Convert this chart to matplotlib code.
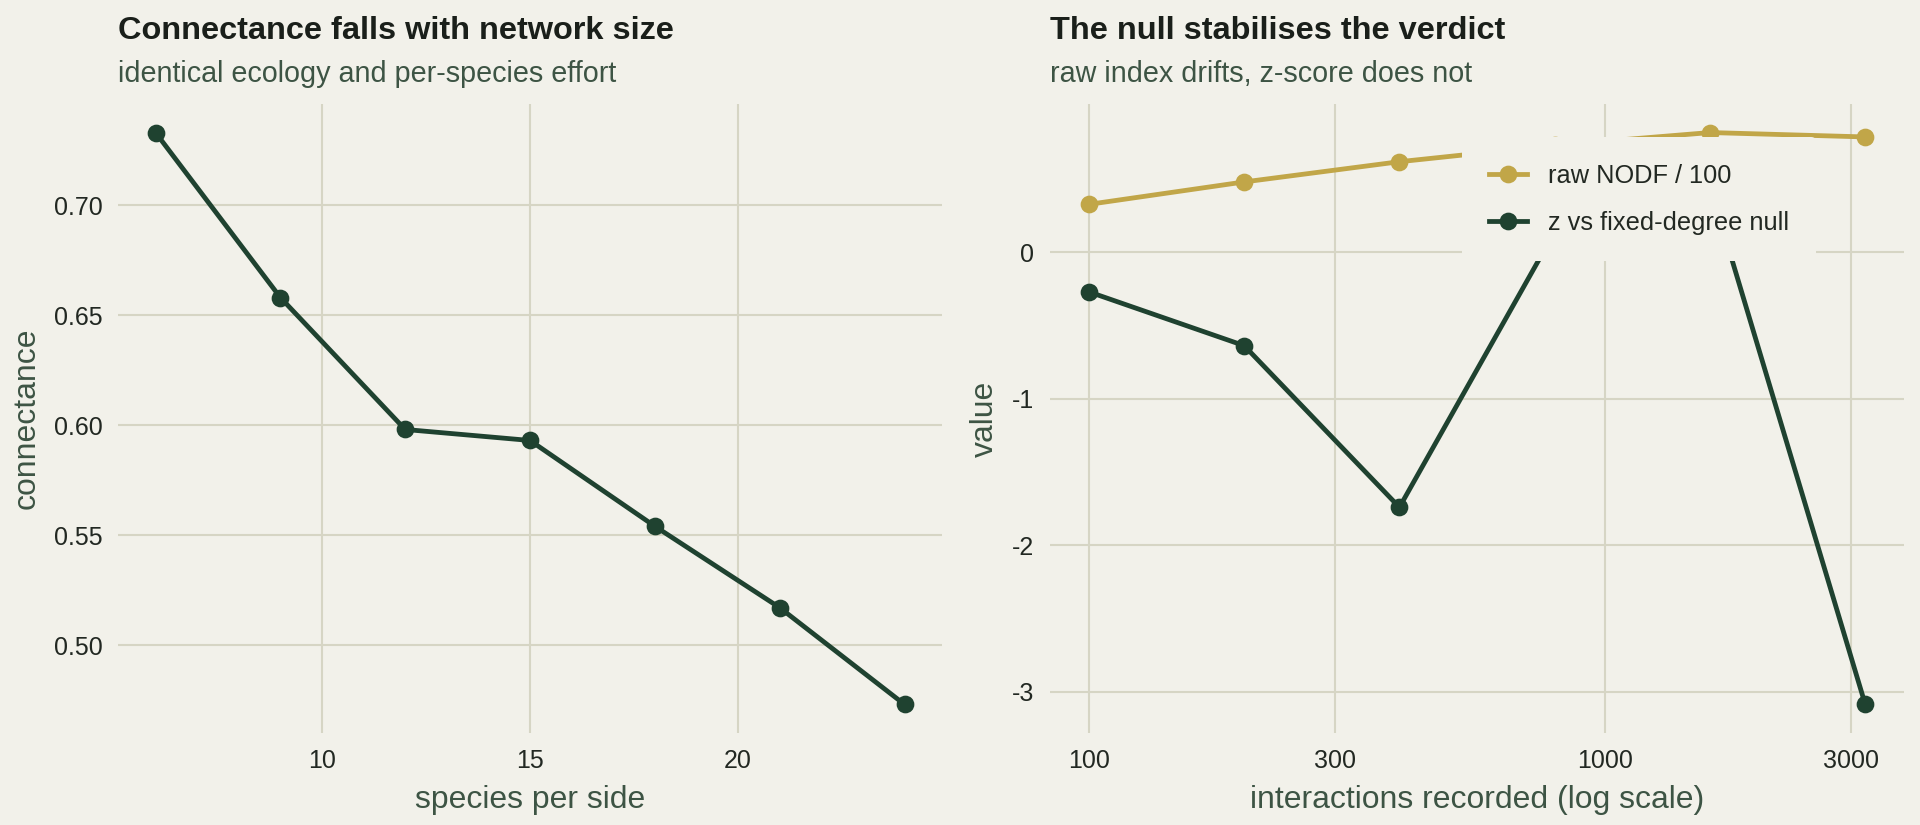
import numpy as np
import matplotlib
matplotlib.use("Agg")
import matplotlib.pyplot as plt

# left panel: connectance vs network size
species = [6, 9, 12, 15, 18, 21, 24]
connectance = [0.733, 0.658, 0.598, 0.593, 0.554, 0.517, 0.473]

# right panel: nestedness vs sampling effort
interactions = [100, 200, 400, 800, 1600, 3200]
raw_nodf = [0.327, 0.48, 0.618, 0.73, 0.817, 0.787]
z_score = [-0.27, -0.637, -1.74, 0.14, 0.45, -3.085]

BG = "#f2f1ea"
GRID = "#d6d5c4"
GREEN = "#1f4230"
GOLD = "#c1a648"
TITLE_C = "#1a1f1a"
SUB_C = "#3d5444"
TICK_C = "#222822"

plt.rcParams["font.family"] = ["Liberation Sans", "DejaVu Sans"]
plt.rcParams["axes.unicode_minus"] = False

fig = plt.figure(figsize=(12.8, 5.5), dpi=150, facecolor=BG)
ax1 = fig.add_axes([0.0615, 0.1115, 0.4291, 0.7625])
ax2 = fig.add_axes([0.5469, 0.1115, 0.4448, 0.7625])


def style(ax):
    ax.set_facecolor(BG)
    for s in ax.spines.values():
        s.set_visible(False)
    ax.grid(True, color=GRID, linewidth=1.0)
    ax.set_axisbelow(True)
    ax.tick_params(length=0, pad=7.5, labelsize=12, colors=TICK_C)


def heading(ax, title, subtitle):
    ax.text(0, 1.103, title, transform=ax.transAxes, fontsize=15.6,
            fontweight="bold", color=TITLE_C, va="baseline", ha="left")
    ax.text(0, 1.035, subtitle, transform=ax.transAxes, fontsize=13.8,
            color=SUB_C, va="baseline", ha="left")


style(ax1)
ax1.plot(species, connectance, color=GREEN, lw=2.3, marker="o", ms=7.5)
ax1.set_xticks([10, 15, 20])
ax1.set_yticks([0.50, 0.55, 0.60, 0.65, 0.70])
ax1.set_yticklabels(["0.50", "0.55", "0.60", "0.65", "0.70"])
ax1.set_xlabel("species per side", fontsize=15.3, color=SUB_C, labelpad=6)
ax1.set_ylabel("connectance", fontsize=15.3, color=SUB_C, labelpad=6)
heading(ax1, "Connectance falls with network size",
        "identical ecology and per-species effort")

style(ax2)
ax2.plot(interactions, raw_nodf, color=GOLD, lw=2.3, marker="o", ms=7.5,
         label="raw NODF / 100")
ax2.plot(interactions, z_score, color=GREEN, lw=2.3, marker="o", ms=7.5,
         label="z vs fixed-degree null")
ax2.set_xscale("log")
ax2.set_xticks([100, 300, 1000, 3000])
ax2.set_xticklabels(["100", "300", "1000", "3000"])
ax2.xaxis.set_minor_locator(matplotlib.ticker.NullLocator())
ax2.set_yticks([0, -1, -2, -3])
ax2.set_yticklabels(["0", "-1", "-2", "-3"])
ax2.set_xlabel("interactions recorded (log scale)", fontsize=15.3, color=SUB_C, labelpad=6)
ax2.set_ylabel("value", fontsize=15.3, color=SUB_C, labelpad=6)
heading(ax2, "The null stabilises the verdict", "raw index drifts, z-score does not")
leg = ax2.legend(loc="upper right", bbox_to_anchor=(0.897, 0.9475), fontsize=12.2,
                 frameon=True, framealpha=1, facecolor=BG, edgecolor="none",
                 borderaxespad=0, labelspacing=0.9, borderpad=1.05,
                 handlelength=1.5, handletextpad=0.85)
for t in leg.get_texts():
    t.set_color(TICK_C)

fig.savefig("out.png", dpi=150, facecolor=BG)
